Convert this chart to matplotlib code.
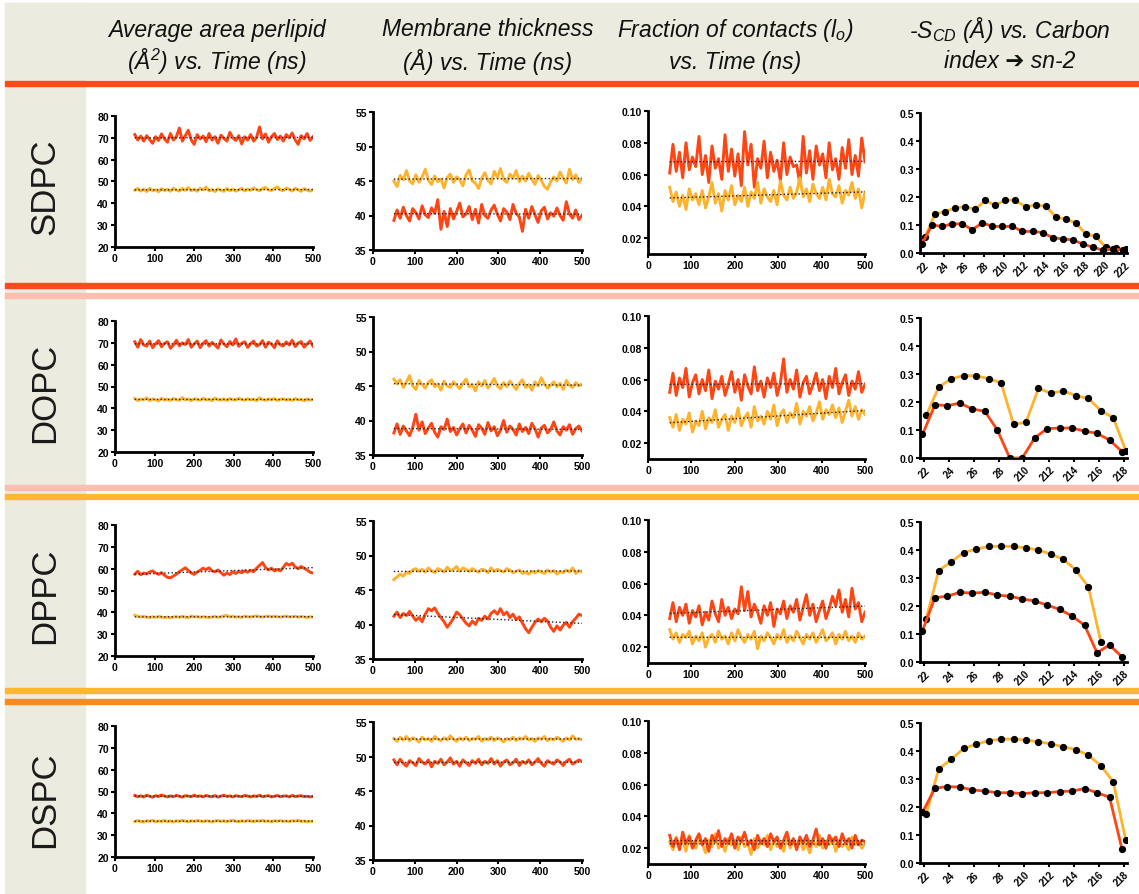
import numpy as np
import matplotlib
matplotlib.use('Agg')
import matplotlib.pyplot as plt
from matplotlib.patches import Rectangle

# Figure size in pixels
W, H = 1139, 895

RED = '#ff4513'
ORANGE = '#ffb22c'
BEIGE = '#ecebdf'

LIPIDS = ['SDPC', 'DOPC', 'DPPC', 'DSPC']
HEADERS = [
    ('Average area perlipid', '(Å$^2$) vs. Time (ns)'),
    ('Membrane thickness', '(Å) vs. Time (ns)'),
    ('Fraction of contacts (l$_o$)', 'vs. Time (ns)'),
    ('-S$_{CD}$ (Å) vs. Carbon', 'index ➔ sn-2'),
]

# time axis of the trajectories (ns)
TIME_START = 50
TIME_STEP = 7.5

# ---- Average area per lipid (Å²) ----
AREA_SDPC_RED = [71.5, 69.0, 70.8, 68.5, 71.0, 69.2, 67.5, 70.5, 68.8, 71.8,
                 69.5, 68.0, 72.0, 69.0, 70.5, 74.5, 68.5, 71.0, 73.5, 69.0,
                 67.0, 71.5, 69.5, 70.8, 68.2, 72.0, 69.0, 70.5, 67.5, 71.2,
                 69.8, 68.5, 72.5, 70.0, 68.8, 71.0, 67.2, 70.5, 69.0, 71.5,
                 68.5, 70.2, 75.0, 69.5, 71.8, 68.0, 70.5, 72.0, 69.2, 70.8,
                 68.5, 71.5, 70.0, 72.2, 69.0, 67.0, 71.0, 69.5, 72.0, 68.8,
                 70.5]
AREA_SDPC_ORANGE = [46.0, 46.8, 45.6, 46.5, 45.4, 46.9, 45.8, 46.2, 45.3, 46.7,
                    45.9, 46.4, 45.5, 47.0, 46.1, 45.6, 46.8, 46.0, 47.2, 45.8,
                    46.5, 45.5, 46.9, 46.2, 47.4, 45.7, 46.3, 45.4, 46.6, 46.0,
                    45.5, 46.8, 45.8, 46.4, 45.6, 46.2, 46.9, 45.7, 46.5, 46.0,
                    47.1, 46.3, 45.8, 46.7, 47.3, 46.1, 45.9, 46.8, 47.5, 46.2,
                    45.8, 47.0, 46.4, 45.6, 46.9, 46.2, 45.5, 46.7, 46.0, 45.6,
                    46.2]
AREA_DOPC_RED = [70.5, 68.0, 71.5, 69.0, 68.5, 70.8, 67.8, 69.5, 71.0, 68.2,
                 69.8, 70.5, 67.5, 69.0, 71.2, 68.6, 70.0, 69.2, 71.5, 68.0,
                 69.5, 70.8, 67.8, 69.8, 71.0, 68.5, 70.2, 69.0, 67.6, 71.3,
                 69.5, 68.2, 70.6, 69.0, 71.8, 68.4, 69.8, 70.5, 67.9, 69.6,
                 70.8, 68.5, 69.2, 71.0, 68.0, 70.3, 69.5, 67.8, 70.9, 69.1,
                 68.6, 70.4, 69.0, 71.2, 68.3, 69.9, 70.6, 68.0, 69.5, 70.8,
                 68.5]
AREA_DOPC_ORANGE = [44.5, 43.6, 44.2, 43.9, 44.8, 43.5, 44.3, 44.0, 43.4, 44.6,
                    43.8, 44.2, 43.6, 44.5, 44.0, 43.7, 44.9, 43.9, 44.3, 43.5,
                    44.4, 44.1, 43.7, 44.6, 43.9, 44.2, 43.5, 44.7, 44.0, 43.8,
                    44.3, 43.6, 44.5, 44.0, 43.8, 44.6, 44.1, 43.7, 44.4, 43.9,
                    44.2, 43.5, 44.8, 44.0, 43.7, 44.3, 43.9, 44.5, 43.6, 44.1,
                    44.4, 43.8, 44.2, 43.6, 44.5, 43.9, 44.1, 43.5, 44.3, 43.8,
                    44.0]
AREA_DPPC_RED = [57.5, 58.8, 57.2, 58.0, 57.6, 58.5, 59.0, 58.0, 57.4, 58.2,
                 57.0, 56.0, 55.8, 56.6, 57.5, 58.6, 59.5, 60.4, 59.2, 58.0,
                 57.4, 58.5, 59.2, 60.2, 59.6, 60.4, 59.0, 58.6, 59.4, 58.2,
                 57.0, 58.0, 57.3, 58.6, 57.8, 58.8, 58.2, 59.0, 58.4, 59.2,
                 58.6, 60.2, 61.5, 62.8, 60.5, 59.4, 60.2, 59.0, 59.6, 59.0,
                 60.6, 62.4, 61.6, 62.5, 60.8, 60.0, 61.0, 60.2, 59.4, 58.4,
                 58.0]
AREA_DPPC_ORANGE = [38.7, 38.2, 37.9, 38.1, 37.8, 37.6, 38.0, 37.7, 38.1, 37.9,
                    37.6, 37.8, 37.5, 37.9, 38.0, 37.7, 38.2, 37.8, 37.6, 38.3,
                    37.9, 38.1, 37.7, 38.0, 37.8, 37.6, 37.9, 38.1, 37.7, 38.0,
                    38.4, 38.6, 37.9, 38.2, 37.8, 38.0, 37.7, 38.3, 38.0, 37.9,
                    38.2, 38.4, 38.0, 37.8, 38.1, 38.3, 37.9, 38.2, 38.0, 37.8,
                    38.1, 38.3, 37.9, 38.0, 38.2, 37.8, 38.1, 37.9, 37.6, 38.0,
                    37.8]
AREA_DSPC_RED = [48.2, 47.6, 48.0, 47.5, 48.3, 47.8, 47.4, 48.1, 47.7, 48.4,
                 47.9, 47.5, 48.0, 47.6, 48.2, 47.8, 47.4, 48.1, 47.9, 47.6,
                 48.3, 47.7, 48.0, 47.5, 48.2, 47.8, 47.6, 48.1, 47.4, 47.9,
                 48.3, 47.7, 48.0, 47.5, 48.1, 47.8, 47.6, 48.2, 47.9, 47.5,
                 48.0, 47.7, 48.3, 47.6, 47.9, 48.1, 47.5, 47.8, 48.2, 47.6,
                 47.9, 48.0, 47.5, 48.2, 47.7, 47.9, 48.1, 47.6, 47.8, 47.5,
                 47.7]
AREA_DSPC_ORANGE = [36.2, 36.7, 36.3, 36.0, 36.6, 36.4, 36.8, 36.1, 36.5, 36.3,
                    36.7, 36.2, 36.5, 36.0, 36.6, 36.3, 36.8, 36.4, 36.1, 36.6,
                    36.3, 36.7, 36.5, 36.2, 36.6, 36.4, 36.0, 36.5, 36.7, 36.3,
                    36.6, 36.2, 36.5, 36.8, 36.4, 36.1, 36.6, 36.3, 36.7, 36.5,
                    36.2, 36.6, 36.4, 36.8, 36.3, 36.5, 36.1, 36.6, 36.4, 36.7,
                    36.3, 36.5, 36.2, 36.6, 36.4, 36.8, 36.3, 36.5, 36.1, 36.4,
                    36.3]

# ---- Membrane thickness (Å) ----
THICK_SDPC_ORANGE = [45.0, 44.2, 45.8, 45.2, 46.5, 45.0, 44.6, 45.9, 44.8, 45.6,
                     46.7, 45.1, 44.5, 45.7, 44.9, 45.3, 44.0, 45.5, 46.0, 44.8,
                     45.6, 45.2, 44.3, 45.9, 46.6, 45.0, 44.7, 43.9, 45.4, 46.2,
                     45.1, 44.6, 46.4, 45.5, 46.8, 45.2, 44.8, 46.0, 45.4, 46.5,
                     44.9, 45.7, 45.0, 46.1, 45.3, 44.5, 45.8, 45.1, 44.2, 43.8,
                     44.9, 45.6, 45.0, 46.3, 45.4, 44.7, 46.7, 45.2, 45.9, 44.8,
                     45.4]
THICK_SDPC_RED = [39.3, 40.8, 39.6, 41.2, 40.0, 39.2, 41.0, 40.4, 39.5, 41.4,
                  40.1, 39.7, 41.1, 40.3, 42.3, 38.0, 40.6, 38.4, 41.0, 39.5,
                  40.6, 41.8, 39.8, 40.2, 41.3, 39.4, 40.9, 38.9, 41.6, 40.0,
                  39.6, 40.8, 41.5, 40.2, 39.2, 41.0, 40.5, 39.4, 41.6, 40.3,
                  39.8, 37.7, 40.9, 39.6, 41.3, 40.1, 39.0, 40.7, 41.2, 39.5,
                  40.4, 39.9, 41.1, 40.0, 39.3, 42.0, 40.2, 39.6, 40.8, 39.4,
                  40.0]
THICK_DOPC_ORANGE = [46.0, 45.3, 45.9, 44.8, 45.6, 46.5, 45.0, 44.5, 45.8, 45.2,
                     44.7, 45.5, 45.9, 44.9, 45.3, 44.4, 45.7, 45.0, 44.8, 45.6,
                     45.1, 44.6, 45.4, 46.0, 44.9, 45.2, 44.3, 45.6, 45.0, 45.8,
                     44.7, 45.3, 46.1, 45.0, 44.6, 45.5, 44.9, 45.7, 45.1, 44.5,
                     45.4, 45.9, 44.8, 45.2, 44.4, 45.6, 45.0, 46.2, 45.3, 44.7,
                     45.1, 45.6, 44.9, 45.4, 44.5, 45.8, 45.1, 44.8, 45.5, 45.0,
                     45.3]
THICK_DOPC_RED = [38.2, 39.5, 38.0, 39.2, 38.5, 37.8, 39.0, 40.9, 38.6, 39.8,
                  38.1, 38.9, 39.6, 38.3, 37.6, 39.1, 38.7, 40.2, 38.4, 39.0,
                  37.9, 38.8, 39.5, 38.2, 39.3, 38.6, 37.7, 39.4, 38.9, 38.0,
                  39.7, 38.5, 39.1, 37.8, 38.6, 40.0, 38.3, 39.2, 38.7, 37.9,
                  39.5, 38.4, 39.0, 38.1, 39.6, 38.8, 37.6, 38.9, 39.3, 38.2,
                  38.7, 39.8, 38.5, 37.9, 39.1, 38.6, 39.4, 38.0, 38.8, 39.2,
                  38.5]
THICK_DPPC_ORANGE = [46.5, 46.9, 47.3, 47.0, 47.6, 47.4, 47.9, 48.1, 47.7, 48.0,
                     47.6, 48.2, 47.8, 47.5, 48.1, 47.9, 47.6, 48.3, 47.8, 48.0,
                     48.4, 47.7, 48.2, 48.0, 47.7, 48.1, 47.8, 47.6, 48.0, 47.9,
                     47.5, 48.2, 47.7, 48.0, 47.8, 47.6, 48.1, 47.9, 47.5, 47.7,
                     47.9, 47.4, 47.6, 47.3, 47.7, 47.5, 47.8, 47.6, 47.4, 47.9,
                     47.6, 47.8, 47.3, 47.7, 47.5, 47.9, 47.6, 48.2, 47.4, 47.8,
                     47.6]
THICK_DPPC_RED = [41.2, 41.8, 41.0, 41.6, 41.3, 41.9, 41.2, 40.6, 41.0, 40.4,
                  41.5, 42.3, 42.0, 42.4, 41.6, 41.0, 40.4, 39.6, 40.2, 40.9,
                  41.8, 41.4, 40.8, 40.2, 39.8, 40.5, 40.0, 40.9, 40.6, 41.2,
                  40.8, 41.6, 42.0, 41.5, 42.3, 41.4, 41.8, 41.0, 41.5, 40.7,
                  41.1, 40.2, 39.4, 38.8, 39.6, 40.3, 40.8, 40.4, 40.9, 40.5,
                  39.6, 39.0, 39.8, 39.2, 39.9, 40.3, 39.6, 40.4, 40.9, 41.5,
                  41.3]
THICK_DSPC_ORANGE = [52.6, 52.2, 52.8, 52.4, 52.9, 52.3, 52.7, 52.5, 52.1, 52.8,
                     52.4, 52.6, 52.2, 52.9, 52.5, 52.3, 52.7, 52.4, 53.0, 52.5,
                     52.2, 52.7, 52.4, 52.8, 52.3, 52.6, 52.5, 52.9, 52.2, 52.6,
                     52.4, 52.8, 52.3, 52.7, 52.5, 52.1, 52.6, 52.4, 52.8, 52.3,
                     52.7, 52.5, 52.9, 52.4, 52.6, 52.2, 52.7, 52.5, 52.9, 52.3,
                     52.6, 52.4, 52.8, 52.5, 52.2, 52.7, 52.4, 53.0, 52.5, 52.6,
                     52.4]
THICK_DSPC_RED = [49.5, 48.8, 49.6, 49.0, 48.6, 49.4, 49.1, 48.7, 49.7, 49.2,
                  48.9, 49.5, 48.5, 49.3, 49.0, 49.6, 48.8, 49.2, 49.8, 48.9,
                  49.3, 48.6, 49.5, 49.1, 48.7, 49.4, 49.0, 49.6, 48.8, 49.3,
                  49.0, 49.7, 48.9, 49.4, 48.6, 49.2, 49.5, 48.8, 49.1, 49.6,
                  48.7, 49.3, 49.0, 49.5, 48.8, 49.2, 49.7, 49.0, 48.6, 49.4,
                  49.1, 48.9, 49.5, 49.2, 48.7, 49.3, 49.6, 48.9, 49.2, 49.5,
                  49.3]

# ---- Fraction of contacts (lo) ----
CONT_SDPC_RED = [0.061, 0.079, 0.062, 0.074, 0.058, 0.080, 0.063, 0.071, 0.065, 0.084,
                 0.060, 0.072, 0.055, 0.078, 0.064, 0.070, 0.057, 0.085, 0.062, 0.076,
                 0.059, 0.073, 0.053, 0.087, 0.066, 0.079, 0.052, 0.070, 0.064, 0.081,
                 0.058, 0.074, 0.062, 0.069, 0.056, 0.080, 0.060, 0.071, 0.065, 0.066,
                 0.054, 0.084, 0.061, 0.075, 0.057, 0.078, 0.066, 0.073, 0.058, 0.080,
                 0.063, 0.070, 0.057, 0.077, 0.064, 0.082, 0.060, 0.072, 0.059, 0.083,
                 0.068]
CONT_SDPC_ORANGE = [0.052, 0.043, 0.049, 0.040, 0.047, 0.038, 0.051, 0.044, 0.048, 0.041,
                    0.050, 0.039, 0.046, 0.055, 0.042, 0.048, 0.037, 0.050, 0.044, 0.053,
                    0.041, 0.047, 0.043, 0.052, 0.040, 0.049, 0.045, 0.055, 0.042, 0.051,
                    0.046, 0.043, 0.050, 0.041, 0.056, 0.047, 0.044, 0.052, 0.045, 0.049,
                    0.058, 0.046, 0.051, 0.043, 0.054, 0.048, 0.045, 0.052, 0.044, 0.057,
                    0.048, 0.046, 0.053, 0.042, 0.050, 0.047, 0.055, 0.045, 0.051, 0.039,
                    0.049]
CONT_DOPC_RED = [0.052, 0.064, 0.050, 0.061, 0.055, 0.067, 0.049, 0.058, 0.063, 0.051,
                 0.060, 0.053, 0.066, 0.048, 0.059, 0.054, 0.062, 0.050, 0.057, 0.065,
                 0.052, 0.060, 0.047, 0.063, 0.056, 0.051, 0.068, 0.053, 0.059, 0.049,
                 0.061, 0.055, 0.064, 0.050, 0.058, 0.073, 0.052, 0.060, 0.054, 0.066,
                 0.049, 0.058, 0.062, 0.051, 0.057, 0.064, 0.053, 0.060, 0.048, 0.062,
                 0.055, 0.067, 0.051, 0.058, 0.063, 0.050, 0.059, 0.054, 0.065, 0.052,
                 0.057]
CONT_DOPC_ORANGE = [0.036, 0.030, 0.038, 0.028, 0.035, 0.032, 0.039, 0.027, 0.034, 0.031,
                    0.040, 0.029, 0.036, 0.033, 0.041, 0.030, 0.035, 0.038, 0.028, 0.037,
                    0.033, 0.042, 0.031, 0.036, 0.039, 0.030, 0.043, 0.034, 0.037, 0.032,
                    0.040, 0.035, 0.044, 0.031, 0.038, 0.041, 0.033, 0.039, 0.036, 0.045,
                    0.032, 0.040, 0.037, 0.043, 0.034, 0.039, 0.046, 0.035, 0.041, 0.038,
                    0.044, 0.036, 0.042, 0.033, 0.040, 0.047, 0.037, 0.043, 0.035, 0.041,
                    0.038]
CONT_DPPC_RED = [0.038, 0.048, 0.036, 0.045, 0.040, 0.047, 0.035, 0.043, 0.039, 0.046,
                 0.034, 0.042, 0.037, 0.049, 0.041, 0.036, 0.050, 0.040, 0.045, 0.038,
                 0.044, 0.041, 0.058, 0.043, 0.055, 0.039, 0.047, 0.042, 0.035, 0.046,
                 0.040, 0.048, 0.033, 0.044, 0.041, 0.049, 0.038, 0.046, 0.042, 0.050,
                 0.037, 0.045, 0.053, 0.040, 0.047, 0.036, 0.043, 0.049, 0.038, 0.044,
                 0.052, 0.046, 0.056, 0.042, 0.050, 0.039, 0.057, 0.044, 0.048, 0.036,
                 0.042]
CONT_DPPC_ORANGE = [0.031, 0.025, 0.029, 0.023, 0.028, 0.026, 0.030, 0.022, 0.027, 0.024,
                    0.029, 0.020, 0.026, 0.028, 0.023, 0.030, 0.025, 0.027, 0.022, 0.029,
                    0.024, 0.031, 0.026, 0.023, 0.028, 0.025, 0.030, 0.019, 0.027, 0.024,
                    0.029, 0.026, 0.022, 0.028, 0.025, 0.031, 0.023, 0.027, 0.024, 0.030,
                    0.026, 0.022, 0.028, 0.025, 0.029, 0.023, 0.027, 0.031, 0.024, 0.026,
                    0.029, 0.022, 0.028, 0.025, 0.030, 0.024, 0.027, 0.023, 0.029, 0.025,
                    0.027]
CONT_DSPC_RED = [0.028, 0.021, 0.026, 0.019, 0.030, 0.023, 0.027, 0.020, 0.025, 0.029,
                 0.022, 0.026, 0.018, 0.028, 0.024, 0.031, 0.021, 0.026, 0.023, 0.029,
                 0.020, 0.027, 0.024, 0.030, 0.022, 0.025, 0.019, 0.028, 0.023, 0.026,
                 0.021, 0.029, 0.024, 0.027, 0.020, 0.025, 0.030, 0.022, 0.026, 0.019,
                 0.027, 0.023, 0.028, 0.021, 0.025, 0.032, 0.022, 0.026, 0.020, 0.028,
                 0.024, 0.027, 0.021, 0.029, 0.023, 0.026, 0.020, 0.028, 0.022, 0.025,
                 0.024]
CONT_DSPC_ORANGE = [0.024, 0.019, 0.027, 0.021, 0.025, 0.018, 0.028, 0.022, 0.020, 0.026,
                    0.023, 0.017, 0.025, 0.021, 0.029, 0.020, 0.024, 0.018, 0.026, 0.022,
                    0.025, 0.019, 0.027, 0.021, 0.023, 0.016, 0.026, 0.020, 0.024, 0.022,
                    0.028, 0.019, 0.025, 0.021, 0.023, 0.018, 0.027, 0.020, 0.024, 0.022,
                    0.026, 0.019, 0.023, 0.017, 0.025, 0.021, 0.028, 0.020, 0.024, 0.022,
                    0.026, 0.018, 0.025, 0.021, 0.023, 0.019, 0.027, 0.022, 0.024, 0.020,
                    0.023]

# ---- Order parameter -S_CD per carbon (sn-2), starting at carbon 2 ----
SCD_SDPC_RED = [0.033, 0.100, 0.095, 0.104, 0.104, 0.083, 0.108, 0.095, 0.095, 0.095, 0.077,
                0.077, 0.073, 0.055, 0.050, 0.047, 0.032, 0.021, 0.010, 0.015, 0.010]
SCD_SDPC_ORANGE = [0.056, 0.140, 0.147, 0.162, 0.165, 0.156, 0.188, 0.170, 0.190, 0.188, 0.165,
                   0.172, 0.167, 0.130, 0.120, 0.108, 0.068, 0.059, 0.020, 0.018, 0.014]
SCD_DOPC_RED = [0.084, 0.190, 0.187, 0.196, 0.175, 0.167, 0.100, 0.000, 0.000, 0.072, 0.105,
                0.107, 0.107, 0.096, 0.088, 0.064, 0.023]
SCD_DOPC_ORANGE = [0.152, 0.253, 0.283, 0.294, 0.294, 0.283, 0.269, 0.120, 0.128, 0.249, 0.231,
                   0.240, 0.222, 0.213, 0.169, 0.144, 0.026]
SCD_DPPC_RED = [0.112, 0.230, 0.235, 0.249, 0.246, 0.249, 0.239, 0.235, 0.225, 0.218, 0.203,
                0.188, 0.164, 0.131, 0.033, 0.061, 0.018]
SCD_DPPC_ORANGE = [0.155, 0.326, 0.358, 0.391, 0.403, 0.413, 0.413, 0.413, 0.407, 0.400, 0.385,
                   0.367, 0.328, 0.269, 0.073]
SCD_DSPC_RED = [0.181, 0.267, 0.273, 0.271, 0.261, 0.257, 0.251, 0.251, 0.248, 0.251, 0.251,
                0.255, 0.257, 0.266, 0.251, 0.235, 0.049]
SCD_DSPC_ORANGE = [0.176, 0.336, 0.370, 0.409, 0.424, 0.437, 0.442, 0.443, 0.439, 0.433, 0.425,
                   0.415, 0.405, 0.385, 0.348, 0.290, 0.081]
SCD_LAST_TICK = [22, 18, 18, 18]

AREA = [(AREA_SDPC_RED, AREA_SDPC_ORANGE), (AREA_DOPC_RED, AREA_DOPC_ORANGE),
        (AREA_DPPC_RED, AREA_DPPC_ORANGE), (AREA_DSPC_RED, AREA_DSPC_ORANGE)]
THICK = [(THICK_SDPC_RED, THICK_SDPC_ORANGE), (THICK_DOPC_RED, THICK_DOPC_ORANGE),
         (THICK_DPPC_RED, THICK_DPPC_ORANGE), (THICK_DSPC_RED, THICK_DSPC_ORANGE)]
CONT = [(CONT_SDPC_RED, CONT_SDPC_ORANGE), (CONT_DOPC_RED, CONT_DOPC_ORANGE),
        (CONT_DPPC_RED, CONT_DPPC_ORANGE), (CONT_DSPC_RED, CONT_DSPC_ORANGE)]
SCD = [(SCD_SDPC_RED, SCD_SDPC_ORANGE), (SCD_DOPC_RED, SCD_DOPC_ORANGE),
       (SCD_DPPC_RED, SCD_DPPC_ORANGE), (SCD_DSPC_RED, SCD_DSPC_ORANGE)]

plt.rcParams['font.family'] = ['Liberation Sans', 'DejaVu Sans']
plt.rcParams['mathtext.fontset'] = 'custom'
plt.rcParams['mathtext.it'] = 'Liberation Sans:italic'
plt.rcParams['mathtext.rm'] = 'Liberation Sans:italic'

fig = plt.figure(figsize=(W / 100, H / 100), dpi=100)
fig.patch.set_facecolor('white')


def px_box(x0, y0, x1, y1):
    # pixel box (top-left origin) -> figure fraction rect
    return [x0 / W, 1 - y1 / H, (x1 - x0) / W, (y1 - y0) / H]


def band(x0, y0, x1, y1, color):
    fig.patches.append(Rectangle((x0 / W, 1 - y1 / H), (x1 - x0) / W, (y1 - y0) / H,
                                 transform=fig.transFigure, color=color, zorder=0))


# background panels
band(5, 4, W, 80, BEIGE)
band(5, 4, 85, H, BEIGE)

# separators
for yc, col in [(84, '#ff4a1c'), (286, '#ff4a1c'), (296, '#ffbdb0'), (488, '#ffbdb0'),
                (497, '#ffb733'), (691, '#ffb733'), (702, '#ff8a1a')]:
    band(5, yc - 2.5, W, yc + 2.5, col)

# column headers
for cx, (l1, l2) in zip([217, 488, 735, 1010], HEADERS):
    fig.text(cx / W, 1 - 30 / H, l1, ha='center', va='center', style='italic',
             fontsize=16.5, color='#111111')
    fig.text(cx / W, 1 - 62 / H, l2, ha='center', va='center', style='italic',
             fontsize=16.5, color='#111111')

ROW_TOPS = [117, 322, 526, 727]
LABEL_Y = [187, 393, 596, 800]


def style(ax):
    for s in ['top', 'right']:
        ax.spines[s].set_visible(False)
    for s in ['left', 'bottom']:
        ax.spines[s].set_linewidth(2)
    ax.set_facecolor('none')
    ax.tick_params(direction='out', length=3, width=1.5, labelsize=7.5, pad=1.5)
    for lab in ax.get_xticklabels() + ax.get_yticklabels():
        lab.set_fontweight('bold')


def series(ax, y, color):
    t = TIME_START + TIME_STEP * np.arange(len(y))
    ax.plot(t, y, color=color, lw=2.1, zorder=2)
    fit = np.polyfit(t, y, 1)
    ax.plot(t, np.polyval(fit, t), color='#222222', ls=':', lw=1.0, zorder=3)


for r, lipid in enumerate(LIPIDS):
    top = ROW_TOPS[r]
    fig.text(45 / W, 1 - LABEL_Y[r] / H, lipid, rotation=90, ha='center', va='center',
             fontsize=25, color='#1a1a1a')

    # area per lipid
    ax = fig.add_axes(px_box(115, top, 313, top + 131))
    red, orange = AREA[r]
    series(ax, orange, ORANGE)
    series(ax, red, RED)
    ax.set_xlim(0, 500)
    ax.set_ylim(20, 80)
    ax.set_xticks(range(0, 501, 100))
    ax.set_yticks(range(20, 81, 10))
    style(ax)

    # thickness
    ax = fig.add_axes(px_box(373, top - 4, 582, top + 134))
    red, orange = THICK[r]
    series(ax, orange, ORANGE)
    series(ax, red, RED)
    ax.set_xlim(0, 500)
    ax.set_ylim(35, 55)
    ax.set_xticks(range(0, 501, 100))
    ax.set_yticks(range(35, 56, 5))
    style(ax)

    # fraction of contacts
    ax = fig.add_axes(px_box(648, top - 5, 865, top + 138))
    red, orange = CONT[r]
    if r == 3:
        series(ax, orange, ORANGE)
        series(ax, red, RED)
    else:
        series(ax, red, RED)
        series(ax, orange, ORANGE)
    ax.set_xlim(0, 500)
    ax.set_ylim(0.01, 0.10)
    ax.set_xticks(range(0, 501, 100))
    ax.set_yticks([0.02, 0.04, 0.06, 0.08, 0.10])
    ax.set_yticklabels(['0.02', '0.04', '0.06', '0.08', '0.10'])
    style(ax)

    # order parameter
    ax = fig.add_axes(px_box(920, top - 3, 1127, top + 137))
    red, orange = SCD[r]
    cr = np.arange(2, 2 + len(red))
    co = np.arange(2, 2 + len(orange))
    ax.plot(co + 0.15, orange, color=ORANGE, lw=2, marker='o', ms=4.2,
            mfc='black', mec='black', zorder=2)
    ax.plot(cr - 0.15, red, color=RED, lw=2, marker='o', ms=4.2,
            mfc='black', mec='black', zorder=3)
    last = SCD_LAST_TICK[r]
    ax.set_xlim(1.65, last + 0.25)
    ax.set_ylim(0, 0.5)
    ticks = list(range(2, last + 1, 2))
    ax.set_xticks(ticks)
    ax.set_xticklabels(['2' + str(c) for c in ticks], rotation=45, ha='right',
                       rotation_mode='anchor')
    ax.set_yticks([0, 0.1, 0.2, 0.3, 0.4, 0.5])
    ax.set_yticklabels(['0.0', '0.1', '0.2', '0.3', '0.4', '0.5'])
    style(ax)
    ax.tick_params(axis='x', labelsize=7)

fig.savefig('out.png', dpi=100)
